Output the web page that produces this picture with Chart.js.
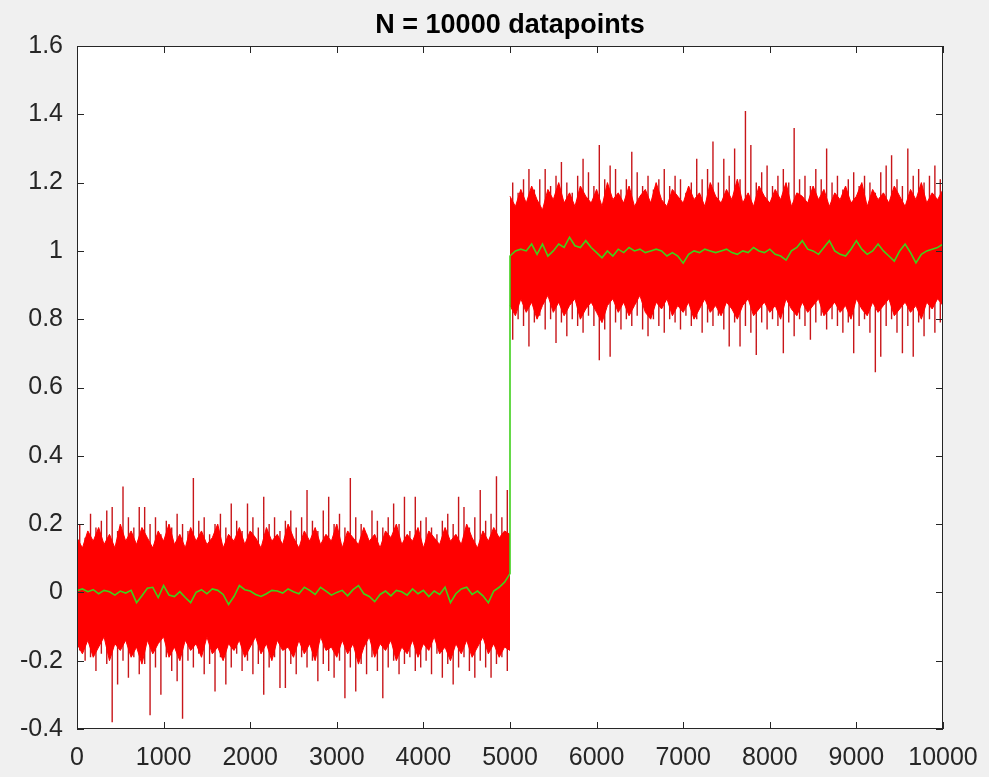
<!DOCTYPE html>
<html>
<head>
<meta charset="utf-8">
<script src="https://cdn.jsdelivr.net/npm/chart.js@4.4.1/dist/chart.umd.min.js"></script>
<style>
  html, body { margin: 0; padding: 0; background: #f0f0f0; }
  #wrap { width: 989px; height: 777px; }
</style>
</head>
<body>
<div id="wrap"><canvas id="plot" width="989" height="777"></canvas></div>
<script>
const titleText = "N = 10000 datapoints";
const xTicks = [0, 1000, 2000, 3000, 4000, 5000, 6000, 7000, 8000, 9000, 10000];
const yTicks = [-0.4, -0.2, 0, 0.2, 0.4, 0.6, 0.8, 1, 1.2, 1.4, 1.6];

// sample spacing of the values
const step = 62.5;

// spike tips, samples 0..5000 (one per 62.5 samples)
const lowPeaks = [0.20, 0.16, 0.23, 0.19, 0.21, 0.24, 0.25, 0.18, 0.31, 0.22,
  0.19, 0.25, 0.25, 0.20, 0.22, 0.17, 0.21, 0.19, 0.23, 0.20,
  0.18, 0.335, 0.21, 0.22, 0.17, 0.20, 0.23, 0.19, 0.26, 0.21,
  0.18, 0.26, 0.22, 0.19, 0.28, 0.20, 0.22, 0.18, 0.21, 0.24,
  0.19, 0.22, 0.30, 0.21, 0.18, 0.24, 0.28, 0.20, 0.23, 0.19,
  0.335, 0.22, 0.20, 0.17, 0.24, 0.21, 0.19, 0.22, 0.26, 0.20,
  0.28, 0.18, 0.28, 0.21, 0.22, 0.19, 0.17, 0.21, 0.23, 0.20,
  0.28, 0.25, 0.19, 0.22, 0.30, 0.21, 0.23, 0.34, 0.22, 0.30];
const lowDips = [-0.17, -0.20, -0.19, -0.23, -0.18, -0.21, -0.38, -0.27, -0.20, -0.25,
  -0.19, -0.24, -0.21, -0.36, -0.22, -0.30, -0.19, -0.23, -0.26, -0.37,
  -0.20, -0.22, -0.18, -0.24, -0.21, -0.29, -0.19, -0.27, -0.22, -0.18,
  -0.23, -0.20, -0.24, -0.21, -0.30, -0.22, -0.19, -0.28, -0.28, -0.21,
  -0.24, -0.19, -0.22, -0.20, -0.26, -0.21, -0.23, -0.25, -0.20, -0.31,
  -0.22, -0.29, -0.21, -0.24, -0.19, -0.23, -0.31, -0.22, -0.20, -0.24,
  -0.21, -0.19, -0.23, -0.22, -0.20, -0.24, -0.18, -0.25, -0.21, -0.27,
  -0.22, -0.19, -0.23, -0.25, -0.20, -0.22, -0.25, -0.21, -0.19, -0.23];

// spike tips, samples 5000..10000
const highPeaks = [1.20, 1.17, 1.21, 1.24, 1.18, 1.21, 1.24, 1.19, 1.22, 1.26,
  1.20, 1.17, 1.22, 1.27, 1.23, 1.19, 1.31, 1.21, 1.25, 1.24,
  1.18, 1.21, 1.29, 1.23, 1.19, 1.22, 1.18, 1.21, 1.24, 1.19,
  1.22, 1.21, 1.17, 1.20, 1.27, 1.21, 1.24, 1.32, 1.20, 1.27,
  1.22, 1.30, 1.21, 1.41, 1.31, 1.20, 1.23, 1.25, 1.19, 1.22,
  1.24, 1.20, 1.36, 1.21, 1.22, 1.19, 1.24, 1.21, 1.30, 1.20,
  1.22, 1.18, 1.21, 1.23, 1.19, 1.22, 1.20, 1.17, 1.23, 1.25,
  1.28, 1.21, 1.19, 1.30, 1.22, 1.24, 1.20, 1.22, 1.25, 1.21];
const highDips = [0.74, 0.80, 0.78, 0.72, 0.79, 0.81, 0.77, 0.80, 0.73, 0.79,
  0.75, 0.80, 0.78, 0.76, 0.81, 0.78, 0.68, 0.77, 0.69, 0.79,
  0.77, 0.80, 0.78, 0.81, 0.77, 0.75, 0.80, 0.78, 0.76, 0.80,
  0.79, 0.77, 0.81, 0.78, 0.80, 0.76, 0.79, 0.78, 0.81, 0.77,
  0.72, 0.79, 0.72, 0.78, 0.76, 0.695, 0.79, 0.77, 0.80, 0.78,
  0.70, 0.79, 0.75, 0.80, 0.78, 0.74, 0.79, 0.81, 0.77, 0.80,
  0.78, 0.76, 0.79, 0.70, 0.78, 0.80, 0.76, 0.645, 0.69, 0.78,
  0.80, 0.76, 0.70, 0.78, 0.69, 0.79, 0.75, 0.80, 0.76, 0.79];

// ragged edges of the solid red band, one per 62.5 samples
const lowBandTop = [0.16, 0.13, 0.18, 0.15, 0.19, 0.14, 0.17, 0.13, 0.20, 0.15,
  0.18, 0.14, 0.19, 0.16, 0.13, 0.18, 0.15, 0.20, 0.14, 0.17,
  0.13, 0.19, 0.15, 0.18, 0.14, 0.16, 0.20, 0.13, 0.17, 0.15,
  0.19, 0.14, 0.18, 0.16, 0.13, 0.19, 0.15, 0.17, 0.14, 0.20,
  0.16, 0.13, 0.18, 0.15, 0.19, 0.14, 0.17, 0.15, 0.20, 0.13,
  0.18, 0.16, 0.14, 0.19, 0.15, 0.17, 0.13, 0.18, 0.16, 0.20,
  0.14, 0.17, 0.15, 0.19, 0.13, 0.18, 0.16, 0.14, 0.19, 0.15,
  0.17, 0.14, 0.20, 0.16, 0.13, 0.18, 0.15, 0.19, 0.16, 0.18, 0.17];
const lowBandBottom = [-0.15, -0.18, -0.14, -0.19, -0.16, -0.13, -0.20, -0.15, -0.17, -0.14,
  -0.19, -0.16, -0.21, -0.14, -0.18, -0.15, -0.13, -0.19, -0.16, -0.20,
  -0.14, -0.17, -0.15, -0.19, -0.13, -0.18, -0.16, -0.20, -0.15, -0.17,
  -0.14, -0.19, -0.16, -0.13, -0.18, -0.15, -0.20, -0.14, -0.17, -0.16,
  -0.19, -0.14, -0.18, -0.15, -0.20, -0.13, -0.17, -0.16, -0.19, -0.14,
  -0.18, -0.15, -0.21, -0.16, -0.13, -0.19, -0.15, -0.17, -0.14, -0.20,
  -0.16, -0.18, -0.14, -0.19, -0.15, -0.17, -0.13, -0.18, -0.16, -0.20,
  -0.15, -0.18, -0.14, -0.19, -0.16, -0.13, -0.18, -0.15, -0.19, -0.16, -0.17];
const highBandTop = [1.16, 1.13, 1.18, 1.14, 1.19, 1.15, 1.12, 1.18, 1.15, 1.20,
  1.14, 1.17, 1.13, 1.19, 1.16, 1.14, 1.18, 1.13, 1.20, 1.15,
  1.17, 1.14, 1.19, 1.13, 1.16, 1.18, 1.14, 1.20, 1.15, 1.13,
  1.18, 1.16, 1.14, 1.19, 1.15, 1.17, 1.13, 1.20, 1.16, 1.14,
  1.18, 1.15, 1.21, 1.14, 1.17, 1.13, 1.19, 1.16, 1.14, 1.18,
  1.15, 1.20, 1.13, 1.17, 1.16, 1.14, 1.19, 1.15, 1.18, 1.13,
  1.17, 1.15, 1.19, 1.14, 1.16, 1.20, 1.13, 1.18, 1.15, 1.17,
  1.14, 1.19, 1.16, 1.13, 1.18, 1.15, 1.20, 1.14, 1.17, 1.15, 1.18];
const highBandBottom = [0.84, 0.81, 0.86, 0.82, 0.85, 0.80, 0.84, 0.87, 0.82, 0.85,
  0.81, 0.84, 0.86, 0.80, 0.83, 0.85, 0.82, 0.79, 0.84, 0.86,
  0.82, 0.85, 0.81, 0.84, 0.87, 0.82, 0.80, 0.85, 0.83, 0.86,
  0.81, 0.84, 0.82, 0.85, 0.80, 0.83, 0.86, 0.82, 0.84, 0.81,
  0.85, 0.83, 0.80, 0.84, 0.86, 0.81, 0.83, 0.85, 0.82, 0.84,
  0.80, 0.86, 0.83, 0.81, 0.85, 0.82, 0.84, 0.86, 0.81, 0.83,
  0.85, 0.82, 0.84, 0.80, 0.86, 0.83, 0.81, 0.85, 0.82, 0.84,
  0.86, 0.81, 0.83, 0.85, 0.82, 0.84, 0.80, 0.85, 0.83, 0.86, 0.84];

// green running mean, one per 62.5 samples
const lowMean = [0.005, 0.010, 0.002, 0.008, -0.004, 0.006, 0.002, -0.008, 0.004, -0.002,
  0.006, -0.030, -0.010, 0.012, 0.015, -0.015, 0.020, -0.008, -0.012, 0.002,
  -0.015, -0.030, 0.000, 0.008, -0.004, 0.010, 0.006, -0.006, -0.035, -0.012,
  0.020, 0.008, 0.004, -0.006, -0.012, -0.004, 0.006, 0.004, -0.002, 0.010,
  0.002, -0.004, 0.015, 0.006, -0.006, 0.015, 0.004, -0.008, 0.000, 0.006,
  -0.010, 0.008, 0.020, -0.004, -0.012, -0.027, -0.006, 0.004, -0.010, 0.006,
  0.002, -0.008, 0.010, -0.004, 0.006, -0.012, 0.004, -0.006, 0.015, -0.030,
  -0.004, 0.010, 0.015, -0.006, 0.004, -0.010, -0.030, 0.004, 0.015, 0.030, 0.055];
const highMean = [0.985, 1.000, 1.005, 1.000, 1.020, 0.990, 1.020, 0.985, 1.000, 1.020,
  1.010, 1.040, 1.015, 1.010, 1.030, 1.010, 0.995, 0.980, 1.000, 0.985,
  1.005, 0.995, 1.010, 1.000, 1.005, 0.995, 1.000, 1.005, 1.000, 0.985,
  0.995, 0.985, 0.964, 0.990, 1.000, 0.995, 1.005, 1.000, 0.995, 1.000,
  1.005, 0.995, 0.990, 1.000, 0.995, 1.010, 1.000, 0.995, 1.005, 0.990,
  0.985, 0.973, 1.000, 1.010, 1.030, 1.005, 1.000, 0.990, 1.010, 1.030,
  1.000, 0.990, 0.985, 1.005, 1.030, 1.005, 0.990, 1.000, 1.020, 1.000,
  0.985, 0.970, 1.000, 1.020, 0.995, 0.965, 0.990, 1.000, 1.005, 1.010, 1.020];

// each spike is a vertical stroke from dip to tip, broken by a null
function spikePoints(peaks, dips, start) {
    let pts = [];
    peaks.forEach((p, k) => {
        let x = start + step * k + step / 2;
        pts.push({ x: x, y: dips[k] }, { x: x, y: p }, { x: x, y: null });
    });
    return pts;
}

function edgePoints(vals, start) {
    return vals.map((v, k) => ({ x: start + step * k, y: v }));
}

const tickFont = { family: "'Liberation Sans', Arial, sans-serif", size: 25 };

// MATLAB-like box: grey figure, white axes, inward ticks on all sides
const matlabAxes = {
    id: "matlabAxes",
    beforeDraw(chart) {
        const { ctx, chartArea: a } = chart;
        ctx.save();
        ctx.fillStyle = "#f0f0f0";
        ctx.fillRect(0, 0, chart.width, chart.height);
        ctx.fillStyle = "#ffffff";
        ctx.fillRect(a.left, a.top, a.right - a.left, a.bottom - a.top);
        ctx.restore();
    },
    afterDraw(chart) {
        const { ctx, chartArea: a, scales } = chart;
        ctx.save();
        ctx.strokeStyle = "#262626";
        ctx.lineWidth = 1;
        ctx.beginPath();
        xTicks.forEach(v => {
            let px = Math.round(scales.x.getPixelForValue(v)) + 0.5;
            ctx.moveTo(px, a.bottom); ctx.lineTo(px, a.bottom - 7);
            ctx.moveTo(px, a.top); ctx.lineTo(px, a.top + 7);
        });
        yTicks.forEach(v => {
            let py = Math.round(scales.y.getPixelForValue(v)) + 0.5;
            ctx.moveTo(a.left, py); ctx.lineTo(a.left + 7, py);
            ctx.moveTo(a.right, py); ctx.lineTo(a.right - 7, py);
        });
        ctx.stroke();
        ctx.strokeRect(a.left + 0.5, a.top + 0.5, a.right - a.left - 1, a.bottom - a.top - 1);

        ctx.fillStyle = "#000000";
        ctx.font = "bold 27px 'Liberation Sans', Arial, sans-serif";
        ctx.textAlign = "center";
        ctx.textBaseline = "alphabetic";
        ctx.fillText(titleText, (a.left + a.right) / 2, 33);
        ctx.restore();
    }
};

const lineBase = { pointRadius: 0, tension: 0 };

new Chart(document.getElementById("plot"), {
    type: "line",
    data: {
        datasets: [
            {
                ...lineBase,
                label: "mean",
                data: edgePoints(lowMean, 0).concat(edgePoints(highMean, 5000)),
                borderColor: "#3fd01c",
                borderWidth: 1.6,
                fill: false
            },
            { ...lineBase, label: "low top", data: edgePoints(lowBandTop, 0), borderColor: "#ff0000", borderWidth: 1, fill: false },
            { ...lineBase, label: "low bottom", data: edgePoints(lowBandBottom, 0), borderColor: "#ff0000", borderWidth: 1, fill: "-1", backgroundColor: "#ff0000" },
            { ...lineBase, label: "high top", data: edgePoints(highBandTop, 5000), borderColor: "#ff0000", borderWidth: 1, fill: false },
            { ...lineBase, label: "high bottom", data: edgePoints(highBandBottom, 5000), borderColor: "#ff0000", borderWidth: 1, fill: "-1", backgroundColor: "#ff0000" },
            {
                ...lineBase,
                label: "signal",
                data: spikePoints(lowPeaks, lowDips, 0).concat(spikePoints(highPeaks, highDips, 5000)),
                borderColor: "#c8161a",
                borderWidth: 1.4,
                spanGaps: false,
                fill: false
            }
        ]
    },
    options: {
        responsive: false,
        animation: false,
        events: [],
        layout: { padding: { top: 46, right: 46, left: 0, bottom: 0 } },
        plugins: {
            legend: { display: false },
            title: { display: false },
            tooltip: { enabled: false }
        },
        scales: {
            x: {
                type: "linear",
                min: 0,
                max: 10000,
                afterFit: s => { s.height = 48; },
                afterBuildTicks: s => { s.ticks = xTicks.map(v => ({ value: v })); },
                grid: { display: false, drawTicks: false },
                border: { display: false },
                ticks: {
                    color: "#262626",
                    font: { ...tickFont, lineHeight: 1.5 },
                    padding: 10,
                    autoSkip: false,
                    maxRotation: 0,
                    callback: v => String(v)
                }
            },
            y: {
                type: "linear",
                min: -0.4,
                max: 1.6,
                afterFit: s => { s.width = 77; },
                afterBuildTicks: s => { s.ticks = yTicks.map(v => ({ value: v })); },
                grid: { display: false, drawTicks: false },
                border: { display: false },
                ticks: { color: "#262626", font: tickFont, padding: 14, callback: v => String(Number(v.toFixed(1))) }
            }
        }
    },
    plugins: [matlabAxes]
});
</script>
</body>
</html>
